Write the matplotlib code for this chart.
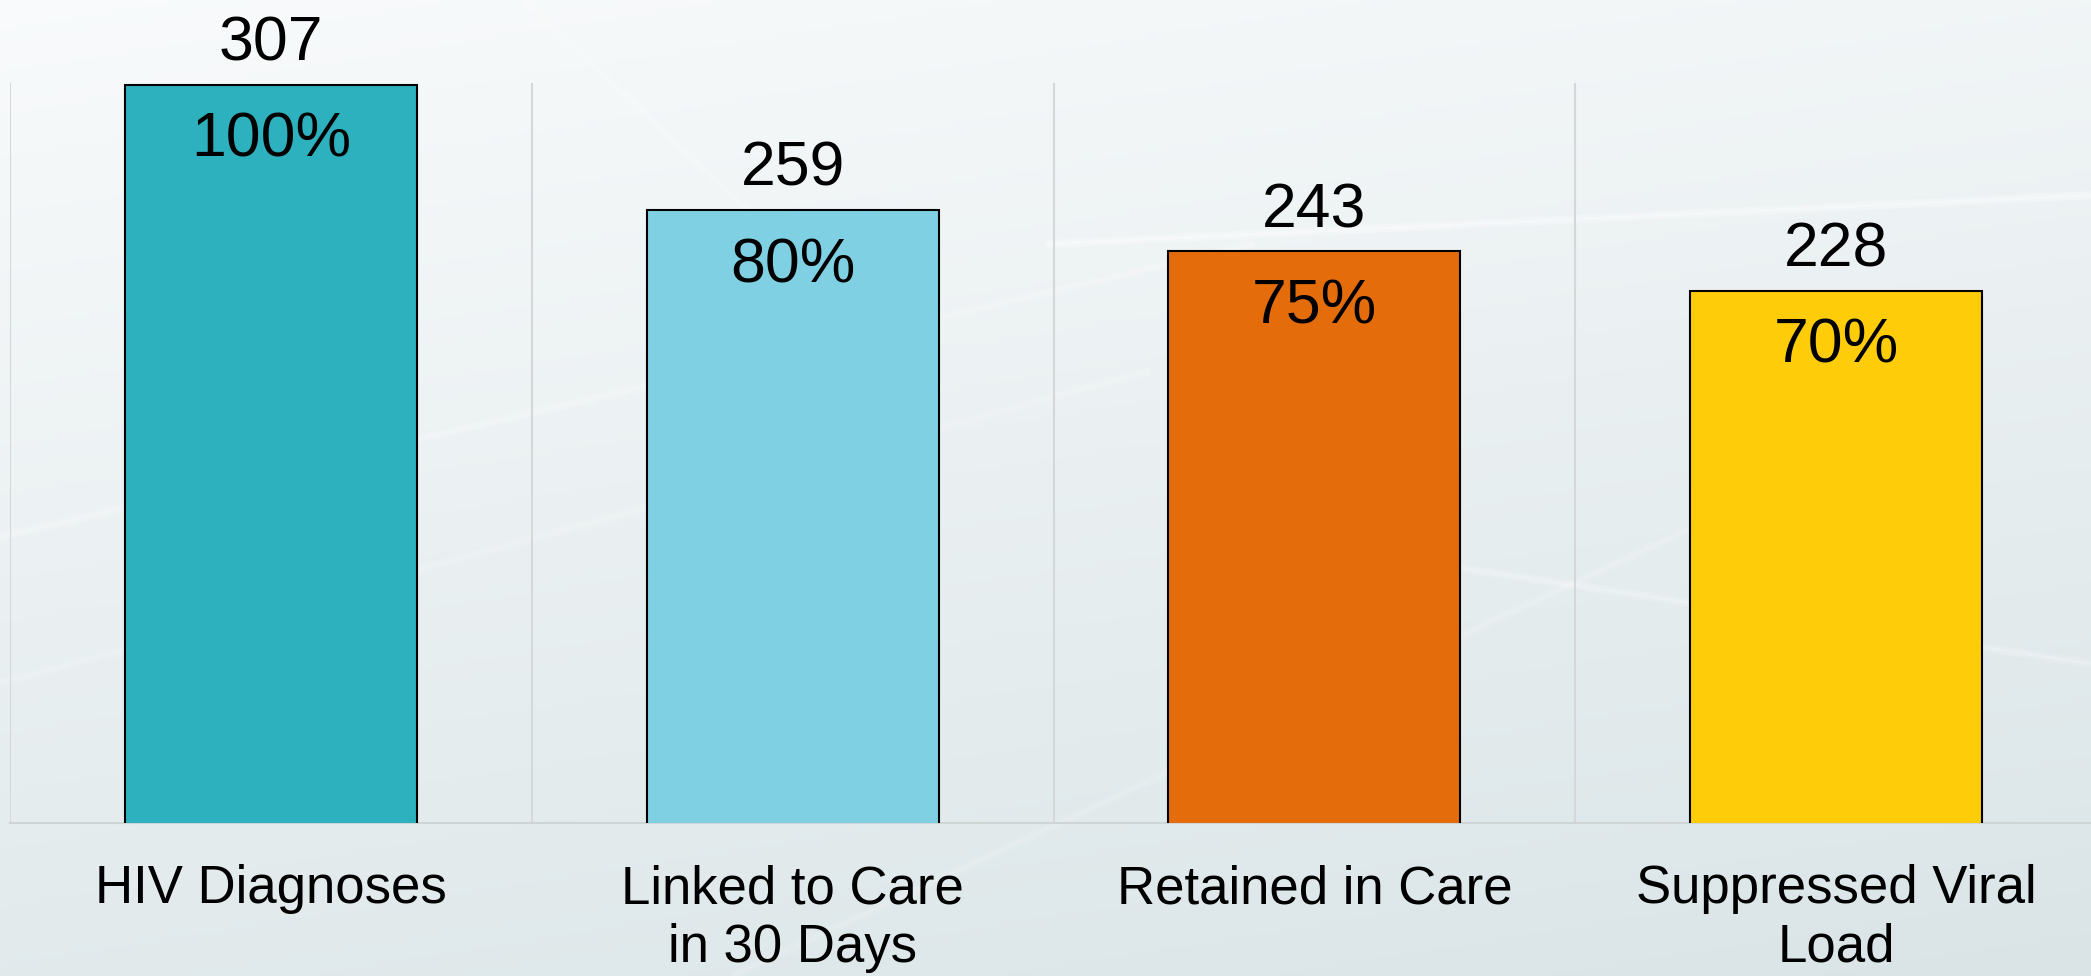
import numpy as np
import matplotlib.pyplot as plt

plt.rcParams['font.family'] = ['Liberation Sans', 'DejaVu Sans']

categories = ['HIV Diagnoses', 'Linked to Care\nin 30 Days', 'Retained in Care', 'Suppressed Viral\nLoad']
counts = [307, 259, 243, 228]
percents = ['100%', '80%', '75%', '70%']
colors = ['#2DB1BF', '#7FD0E2', '#E46C0A', '#FECC09']

W, H = 2091, 976
fig = plt.figure(figsize=(W / 100, H / 100), dpi=100)

# background: soft grey-white gradient with a few light streaks
bg = fig.add_axes([0, 0, 1, 1], zorder=0)
yy, xx = np.mgrid[0:1:200j, 0:1:400j]
t = np.clip(0.75 * yy + 0.25 * xx, 0, 1)
top = np.array([0.975, 0.983, 0.986])
bot = np.array([0.855, 0.895, 0.905])
img = top[None, None, :] * (1 - t[..., None]) + bot[None, None, :] * t[..., None]
bg.imshow(img, extent=[0, 1, 0, 1], aspect='auto', origin='upper')
for (x0, y0, x1, y1, a) in [(0.0, 0.45, 0.6, 0.75, 0.18), (0.0, 0.30, 0.55, 0.62, 0.12),
                            (0.35, 0.0, 0.9, 0.55, 0.12), (0.5, 0.75, 1.0, 0.80, 0.3),
                            (0.6, 0.45, 1.0, 0.32, 0.18), (0.25, 1.0, 0.45, 0.6, 0.15)]:
    bg.plot([x0, x1], [y0, y1], color='white', lw=6, alpha=a, solid_capstyle='butt')
    bg.plot([x0, x1], [y0, y1], color='white', lw=2, alpha=a, solid_capstyle='butt')
bg.set_xlim(0, 1)
bg.set_ylim(0, 1)
bg.axis('off')

ax = fig.add_axes([10 / W, (H - 822.7) / H, 2087 / W, 740 / H], zorder=1)
ax.patch.set_alpha(0)
x = np.arange(len(categories))
ax.bar(x, counts, width=0.56, color=colors, edgecolor='black', linewidth=1.5, zorder=3)
ax.set_xlim(-0.5, 3.5)
ax.set_ylim(24, 307.7)

for gx in [-0.5, 0.5, 1.5, 2.5, 3.5]:
    ax.axvline(gx, color='#d4d8d9', lw=1.5, zorder=1)

for i in range(len(categories)):
    ax.annotate(str(counts[i]), (x[i], counts[i]), xytext=(0, 8), textcoords='offset points',
                ha='center', va='bottom', fontsize=45, color='black', annotation_clip=False)
    ax.annotate(percents[i], (x[i], counts[i]), xytext=(0, -19), textcoords='offset points',
                ha='center', va='top', fontsize=45, color='black', zorder=4)

for s in ['top', 'right', 'left']:
    ax.spines[s].set_visible(False)
ax.spines['bottom'].set_color('#cfd4d5')
ax.spines['bottom'].set_linewidth(1.5)
ax.set_yticks([])
ax.set_xticks(x)
ax.set_xticklabels(categories, fontsize=38, linespacing=1.22)
ax.tick_params(axis='x', length=0, pad=30)

fig.savefig('out.png', dpi=100)
